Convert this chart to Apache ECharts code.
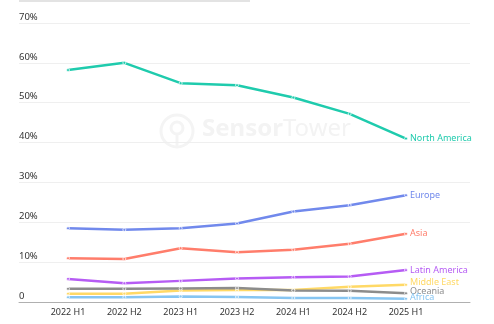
<!DOCTYPE html>
<html><head><meta charset="utf-8">
<script src="https://cdn.jsdelivr.net/npm/echarts@6/dist/echarts.min.js"></script>
<style>html,body{margin:0;padding:0;background:#fff}#c{width:494px;height:324px}</style>
</head><body><div id="c"></div>
<script>
var categories = ['2022 H1','2022 H2','2023 H1','2023 H2','2024 H1','2024 H2','2025 H1'];
var yTicks = [0,10,20,30,40,50,60,70];
var northAmerica = [58.2, 60.0, 54.9, 54.4, 51.3, 47.2, 41.0];
var europe       = [18.5, 18.1, 18.5, 19.7, 22.7, 24.3, 26.8];
var asia         = [11.0, 10.8, 13.5, 12.5, 13.1, 14.6, 17.1];
var latinAmerica = [5.8, 4.7, 5.3, 5.9, 6.2, 6.4, 8.0];
var middleEast   = [2.1, 2.1, 2.9, 3.0, 3.0, 3.8, 4.3];
var oceania      = [3.3, 3.3, 3.4, 3.5, 2.9, 2.8, 2.2];
var africa       = [1.2, 1.2, 1.4, 1.25, 1.0, 1.0, 0.8];

var seriesDefs = [
  {name:'North America', data:northAmerica, color:'#1fcbad'},
  {name:'Europe', data:europe, color:'#7189ec'},
  {name:'Asia', data:asia, color:'#ff7d6b'},
  {name:'Latin America', data:latinAmerica, color:'#b65cf4'},
  {name:'Middle East', data:middleEast, color:'#ffd966', dy:-2},
  {name:'Oceania', data:oceania, color:'#8c8c8c', dy:-2},
  {name:'Africa', data:africa, color:'#86c5f2', dy:-1}
];

var chart = echarts.init(document.getElementById('c'));
var font = 'Noto Sans';
var series = seriesDefs.map(function(s){
  return {
    name: s.name, type:'line', xAxisIndex:1, yAxisIndex:1,
    data: s.data,
    symbol:'circle', symbolSize:3, showSymbol:true,
    itemStyle:{color:s.color, borderColor:'rgba(255,255,255,0.7)', borderWidth:1},
    lineStyle:{color:s.color, width:2.5},
    emphasis:{disabled:true},
    animation:false,
    endLabel:{show:true, formatter:'{a}', color:s.color, fontFamily:font, fontSize:9, distance:4, offset:[0, s.dy||0]}
  };
});

chart.setOption({
  animation:false,
  grid:[
    {left:19, right:24, top:23, bottom:22},
    {left:68, right:88, top:23, bottom:22}
  ],
  xAxis:[
    {type:'category', gridIndex:0, data:[''], boundaryGap:false,
     axisLine:{show:true, lineStyle:{color:'#b0b0b0', width:1}}, axisTick:{show:false}, axisLabel:{show:false}, splitLine:{show:false}},
    {type:'category', gridIndex:1, data:categories, boundaryGap:false,
     axisLine:{show:false}, axisTick:{show:false}, splitLine:{show:false},
     axisLabel:{color:'#333', fontFamily:font, fontSize:9, margin:6}}
  ],
  yAxis:[
    {type:'value', gridIndex:0, min:0, max:70, interval:10,
     axisLine:{show:false}, axisTick:{show:false},
     splitLine:{show:true, lineStyle:{color:'#efefef', width:1}},
     axisLabel:{inside:true, margin:0, verticalAlign:'bottom', color:'#333', fontFamily:font, fontSize:9.5, padding:[0,0,1,0],
       formatter:function(v){ return yTicks.indexOf(v) >= 0 ? (v===0 ? '0' : v + '%') : ''; }}},
    {type:'value', gridIndex:1, min:0, max:70, interval:10, show:false}
  ],
  graphic:[
    {type:'rect', left:19, top:0, shape:{width:231, height:2}, style:{fill:'#e3e3e3'}, silent:true},
    {type:'circle', shape:{cx:177, cy:131, r:16}, style:{fill:'none', stroke:'#f4f4f4', lineWidth:3}, z:-1, silent:true},
    {type:'circle', shape:{cx:177, cy:128, r:6}, style:{fill:'none', stroke:'#f4f4f4', lineWidth:3}, z:-1, silent:true},
    {type:'line', shape:{x1:177, y1:134, x2:177, y2:147}, style:{stroke:'#f4f4f4', lineWidth:3}, z:-1, silent:true},
    {type:'text', left:202, top:117, z:-1, silent:true,
     style:{text:'{b|Sensor}Tower', fill:'#f3f3f3', font:'24px "Noto Sans"',
       rich:{b:{fontWeight:'bold', fontSize:24, fontFamily:'Noto Sans', fill:'#f3f3f3'}}}}
  ],
  series:series
});
</script></body></html>
